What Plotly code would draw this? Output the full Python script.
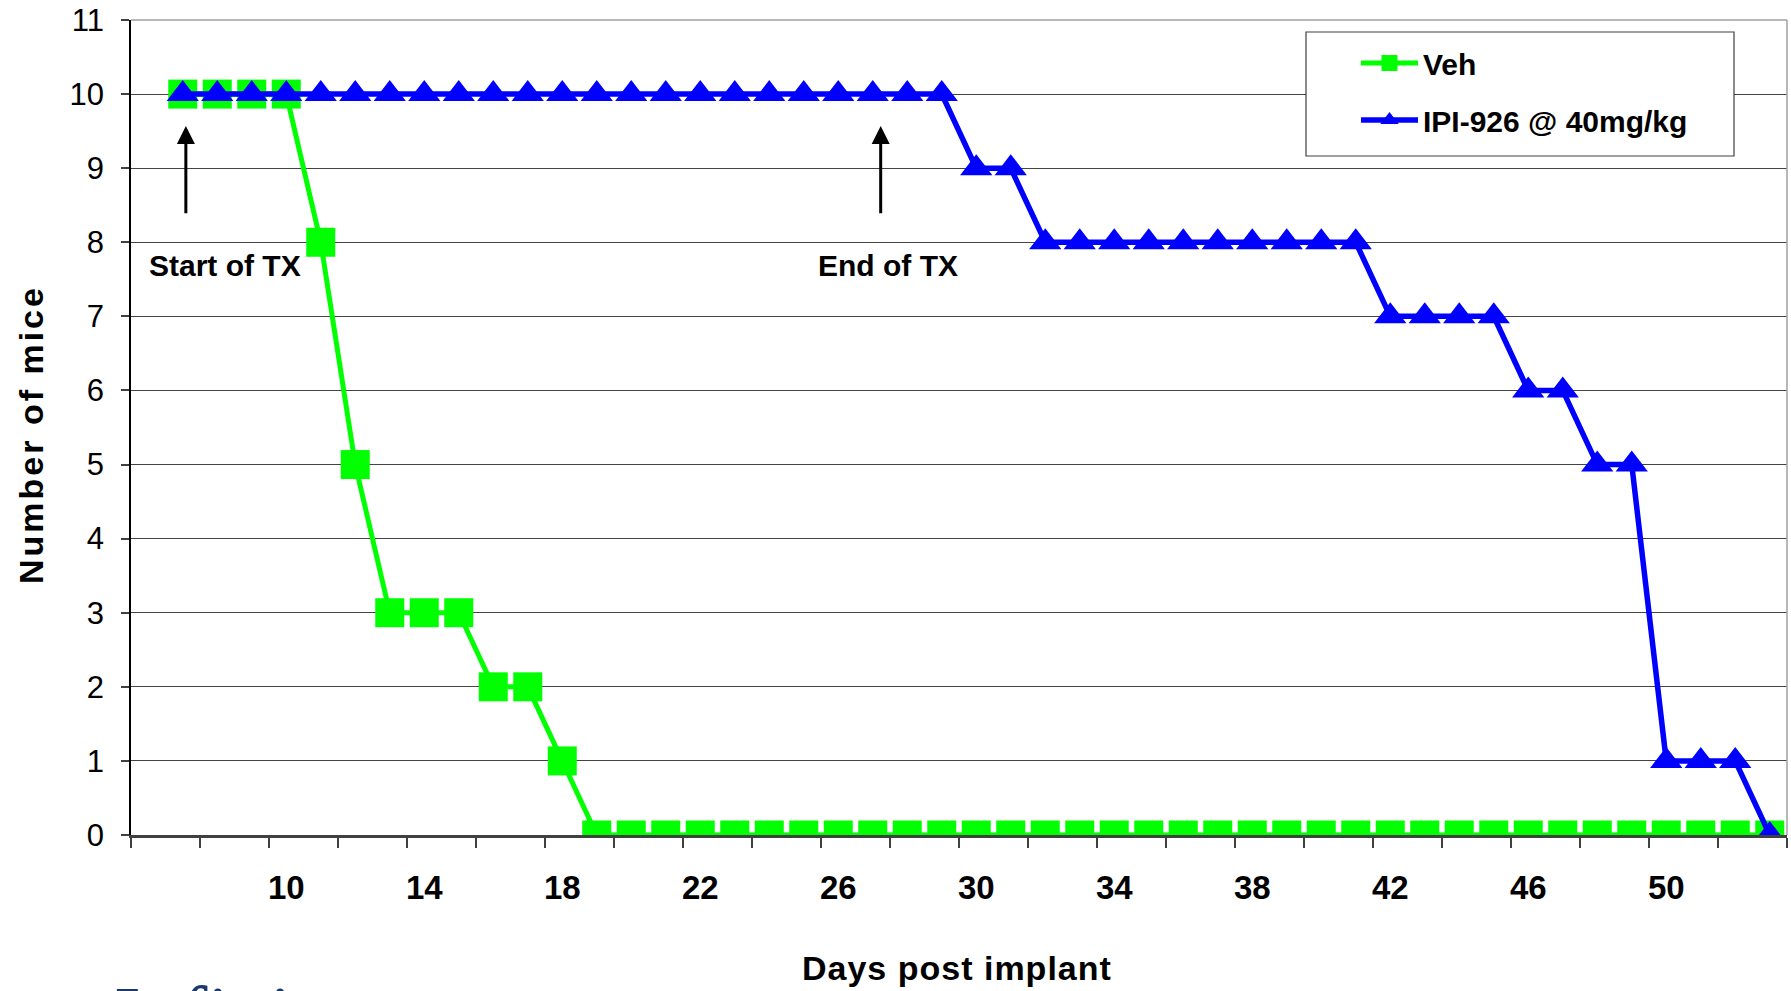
import plotly.graph_objects as go

# ---- data ----
days = list(range(7, 54))
veh = [10, 10, 10, 10, 8, 5, 3, 3, 3, 2, 2, 1] + [0] * 35
ipi = [10] * 23 + [9, 9] + [8] * 10 + [7, 7, 7, 7, 6, 6, 5, 5, 1, 1, 1, 0]
y_ticks = list(range(0, 12))
x_ticks = list(range(10, 51, 4))
series_names = ["Veh", "IPI-926 @ 40mg/kg"]

W, H = 1791, 991
ML, MR, MT, MB = 131, 4, 20, 156
PW, PH = W - ML - MR, H - MT - MB

def px_x(p):
    return (p - ML) / PW

def px_y(p):
    return (H - MB - p) / PH

SANS = "Liberation Sans, Arial, sans-serif"

fig = go.Figure()
fig.add_trace(go.Scatter(
    x=days, y=veh, name=series_names[0], mode="lines+markers",
    line=dict(color="#00FF00", width=5),
    marker=dict(symbol="square", size=29, color="#00FF00"),
    legendgroup="a",
))
fig.add_trace(go.Scatter(
    x=days, y=ipi, name=series_names[1], mode="lines+markers",
    line=dict(color="#0000FF", width=5.5),
    marker=dict(symbol="triangle-up", size=28, color="#0000FF"),
    legendgroup="b",
))

fig.update_layout(
    width=W, height=H,
    margin=dict(l=ML, r=MR, t=MT, b=MB, pad=0),
    paper_bgcolor="white", plot_bgcolor="white",
    showlegend=True,
    legend=dict(
        x=px_x(1356), y=px_y(37), xanchor="left", yanchor="top",
        bgcolor="rgba(0,0,0,0)", borderwidth=0,
        font=dict(family=SANS, size=30, color="black", weight="bold"),
        itemwidth=57, tracegroupgap=15, traceorder="grouped",
    ),
)

fig.update_xaxes(
    range=[5.5, 53.5], tickmode="array", tickvals=x_ticks,
    ticktext=[str(v) for v in x_ticks],
    ticks="", showgrid=False, zeroline=False,
    showline=True, linecolor="#404040", linewidth=2.5,
    tickfont=dict(family=SANS, size=33, color="black", weight="bold"),
    ticklabelstandoff=22,
    minor=dict(tickvals=[5.5 + 2 * i for i in range(25)], ticks="outside",
               ticklen=10, tickcolor="#404040", tickwidth=1.5, showgrid=False),
)
fig.update_yaxes(
    range=[0, 11], tickmode="array", tickvals=y_ticks,
    ticks="outside", ticklen=8, tickcolor="#404040", tickwidth=1.5,
    showgrid=True, gridcolor="#444444", gridwidth=1, zeroline=False,
    showline=True, linecolor="black", linewidth=1.5,
    tickfont=dict(family=SANS, size=31, color="black"),
    ticklabelstandoff=11,
)

# plot-area border (top/right) and legend box
fig.add_shape(type="line", xref="paper", yref="paper", x0=0, x1=1, y0=1, y1=1,
              line=dict(color="#A0A0A0", width=1.5), layer="above")
fig.add_shape(type="line", xref="paper", yref="paper", x0=1, x1=1, y0=0, y1=1,
              line=dict(color="#A0A0A0", width=1.5), layer="above")
fig.add_shape(type="rect", xref="paper", yref="paper",
              x0=px_x(1306), x1=px_x(1734), y0=px_y(156), y1=px_y(32),
              line=dict(color="#404040", width=1.2), fillcolor="white", layer="above")

# treatment arrows and labels
for ax_x, label, lx in [(7.09, "Start of TX", 8.22), (27.23, "End of TX", 27.44)]:
    fig.add_annotation(x=ax_x, y=9.57, ax=ax_x, ay=8.37, xref="x", yref="y",
                       axref="x", ayref="y", text="", showarrow=True,
                       arrowhead=2, arrowsize=1.2, arrowwidth=3, arrowcolor="black")
    fig.add_annotation(x=lx, y=7.68, xref="x", yref="y", text=label, showarrow=False,
                       font=dict(family=SANS, size=30, color="black", weight="bold"))

# axis titles
fig.add_annotation(
    x=px_x(957), y=px_y(968), xref="paper", yref="paper",
    text='<span style="letter-spacing:1px">Days post implant</span>',
    showarrow=False, xanchor="center", yanchor="middle",
    font=dict(family=SANS, size=34, color="black", weight="bold"))
fig.add_annotation(
    x=px_x(31), y=px_y(435), xref="paper", yref="paper",
    text='<span style="letter-spacing:3px">Number of mice</span>',
    showarrow=False, textangle=-90, xanchor="center", yanchor="middle",
    font=dict(family=SANS, size=34, color="black", weight="bold"))

# cropped logo fragment at the bottom edge
fig.add_annotation(
    x=px_x(112), y=px_y(969), xref="paper", yref="paper", text="Infinity",
    showarrow=False, xanchor="left", yanchor="top",
    font=dict(family="Liberation Serif, Times New Roman, serif", size=80, color="#1B3A6B"))

fig.write_html("out.html")
